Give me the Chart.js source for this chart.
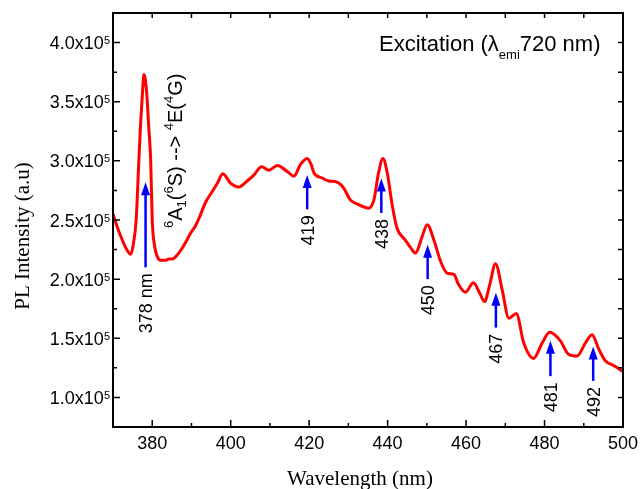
<!DOCTYPE html>
<html lang="en">
<head>
<meta charset="UTF-8">
<title>Excitation spectrum</title>
<script src="https://cdn.jsdelivr.net/npm/chart.js@4"></script>
<style>
  body { margin: 0; background: #fff; }
  canvas { display: block; }
</style>
</head>
<body>
<canvas id="plChart" width="640" height="489"></canvas>
<script>
// PL excitation spectrum, intensity in units of 10^5
const wavelength = [
  370.0, 371.0, 372.0, 373.2, 374.5, 375.2, 375.9, 376.6, 377.0, 377.5,
  377.9, 378.6, 379.1, 379.6, 380.0, 380.6, 381.3, 382.1, 383.5, 384.2,
  385.1, 386.0, 387.2, 388.5, 389.8, 391.0, 392.0, 393.6, 394.9, 396.6,
  398.0, 400.0, 402.1, 404.2, 405.9, 407.9, 409.7, 411.9, 414.4, 416.1,
  417.8, 419.5, 420.5, 421.2, 423.3, 425.0, 427.1, 428.8, 430.5, 432.6,
  434.0, 435.2, 436.5, 437.7, 438.8, 439.9, 441.2, 442.4, 444.5, 446.0,
  447.1, 448.8, 450.1, 451.8, 453.5, 455.2, 456.9, 458.0, 459.8, 461.9,
  463.5, 464.7, 466.0, 467.5, 469.2, 470.9, 472.8, 474.7, 477.2, 479.4,
  481.3, 484.0, 486.1, 488.3, 490.4, 492.1, 493.8, 495.5, 497.6, 500.0
];
const intensity = [
  2.55, 2.45, 2.36, 2.27, 2.21, 2.30, 2.50, 3.01, 3.29, 3.57,
  3.73, 3.57, 3.29, 3.01, 2.50, 2.28, 2.19, 2.16, 2.16, 2.17,
  2.17, 2.19, 2.24, 2.31, 2.39, 2.45, 2.52, 2.65, 2.72, 2.81,
  2.89, 2.81, 2.78, 2.83, 2.88, 2.95, 2.92, 2.96, 2.91, 2.87,
  2.97, 3.02, 2.97, 2.90, 2.855, 2.83, 2.82, 2.77, 2.67, 2.63,
  2.61, 2.60, 2.67, 2.90, 3.02, 2.90, 2.62, 2.43, 2.33, 2.26,
  2.22, 2.36, 2.46, 2.33, 2.15, 2.05, 2.04, 1.96, 1.89, 1.97,
  1.88, 1.81, 1.95, 2.13, 1.91, 1.67, 1.71, 1.46, 1.33, 1.46,
  1.55, 1.48, 1.365, 1.35, 1.46, 1.53, 1.41, 1.31, 1.27, 1.22
];

// marked peaks: arrow wavelength, arrow head and tail heights (x10^5), labels
const peakWavelength = [378.3, 419.5, 438.4, 450.2, 467.6, 481.5, 492.4];
const arrowTip = [2.82, 2.88, 2.85, 2.29, 1.885, 1.48, 1.43];
const arrowTail = [2.10, 2.59, 2.56, 2.00, 1.59, 1.18, 1.14];
const peakLabels = ['378 nm', '419', '438', '450', '467', '481', '492'];

const xTicks = [380, 400, 420, 440, 460, 480, 500];
const xMinorTicks = [370, 390, 410, 430, 450, 470, 490];
const yTicks = [1.0, 1.5, 2.0, 2.5, 3.0, 3.5, 4.0];
const yMinorTicks = [0.75, 1.25, 1.75, 2.25, 2.75, 3.25, 3.75, 4.25];

const sans = 'Arial, "Liberation Sans", sans-serif';
const serif = '"Times New Roman", "Liberation Serif", serif';

// draws text made of [string, 'sup'|'sub'|null, size, dy] pieces, returns width
function richText(ctx, parts, x, y, measureOnly) {
  let cx = x;
  parts.forEach(p => {
    ctx.font = p[2] + 'px ' + sans;
    if (!measureOnly) ctx.fillText(p[0], cx, y + (p[3] || 0));
    cx += ctx.measureText(p[0]).width;
  });
  return cx - x;
}

const decorations = {
  id: 'decorations',
  beforeDraw(chart) {
    const ctx = chart.ctx;
    ctx.save();
    ctx.fillStyle = '#fff';
    ctx.fillRect(0, 0, chart.width, chart.height);
    ctx.restore();
  },
  afterDatasetsDraw(chart) {
    const ctx = chart.ctx;
    const a = chart.chartArea;
    const xs = chart.scales.x, ys = chart.scales.y;
    ctx.save();

    // frame
    ctx.strokeStyle = '#000';
    ctx.lineWidth = 2;
    ctx.strokeRect(a.left, a.top, a.right - a.left, a.bottom - a.top);

    // inward ticks
    ctx.lineWidth = 1.5;
    ctx.beginPath();
    xTicks.concat(xMinorTicks).forEach(v => {
      const px = xs.getPixelForValue(v);
      const len = xTicks.includes(v) ? 7 : 4;
      ctx.moveTo(px, a.bottom); ctx.lineTo(px, a.bottom - len);
      ctx.moveTo(px, a.top); ctx.lineTo(px, a.top + 5);
    });
    yTicks.concat(yMinorTicks).forEach(v => {
      const py = ys.getPixelForValue(v);
      const len = yTicks.includes(v) ? 7 : 4;
      ctx.moveTo(a.left, py); ctx.lineTo(a.left + len, py);
      ctx.moveTo(a.right, py); ctx.lineTo(a.right - 5, py);
    });
    ctx.stroke();

    // tick labels
    ctx.fillStyle = '#000';
    ctx.textBaseline = 'alphabetic';
    ctx.textAlign = 'center';
    ctx.font = '18px ' + sans;
    xTicks.forEach(v => {
      ctx.fillText(String(v), xs.getPixelForValue(v), a.bottom + 22);
    });
    ctx.textAlign = 'left';
    yTicks.forEach(v => {
      const py = ys.getPixelForValue(v) + 6.5;
      const parts = [[v.toFixed(1) + 'x10', null, 18, 0], ['5', 'sup', 11, -5]];
      const w = richText(ctx, parts, 0, 0, true);
      richText(ctx, parts, a.left - 3 - w, py);
    });

    // axis titles
    ctx.font = '21px ' + serif;
    ctx.textAlign = 'center';
    ctx.fillText('Wavelength (nm)', 360, 485);
    ctx.save();
    ctx.translate(29, 236);
    ctx.rotate(-Math.PI / 2);
    ctx.fillText('PL Intensity (a.u)', 0, 0);
    ctx.restore();

    // title inside plot
    ctx.textAlign = 'left';
    richText(ctx, [
      ['Excitation (\u03bb', null, 22, 0],
      ['emi', 'sub', 13, 8],
      ['720 nm)', null, 22, 0]
    ], 379, 51);

    // arrows
    ctx.strokeStyle = '#0000ff';
    ctx.fillStyle = '#0000ff';
    ctx.lineWidth = 2.5;
    peakWavelength.forEach((w, i) => {
      const px = xs.getPixelForValue(w);
      const tip = ys.getPixelForValue(arrowTip[i]);
      const tail = ys.getPixelForValue(arrowTail[i]);
      ctx.beginPath();
      ctx.moveTo(px, tail);
      ctx.lineTo(px, tip + 8);
      ctx.stroke();
      ctx.beginPath();
      ctx.moveTo(px, tip);
      ctx.lineTo(px - 4.5, tip + 13);
      ctx.lineTo(px + 4.5, tip + 13);
      ctx.closePath();
      ctx.fill();
    });

    // peak labels, rotated
    ctx.fillStyle = '#000';
    ctx.font = '18px ' + sans;
    ctx.textAlign = 'right';
    peakLabels.forEach((t, i) => {
      const px = xs.getPixelForValue(peakWavelength[i]);
      const tail = ys.getPixelForValue(arrowTail[i]);
      ctx.save();
      ctx.translate(px + 6.5, tail + 6);
      ctx.rotate(-Math.PI / 2);
      ctx.fillText(t, 0, 0);
      ctx.restore();
    });

    // transition label next to the 378 nm peak
    ctx.textAlign = 'left';
    ctx.save();
    ctx.translate(182, 228);
    ctx.rotate(-Math.PI / 2);
    richText(ctx, [
      ['6', 'sup', 13, -9], ['A', null, 20, 0], ['1', 'sub', 13, 4],
      ['(', null, 20, 0], ['6', 'sup', 13, -9], ['S) --> ', null, 20, 0],
      ['4', 'sup', 13, -9], ['E(', null, 20, 0], ['4', 'sup', 13, -9],
      ['G)', null, 20, 0]
    ], 0, 0);
    ctx.restore();

    ctx.restore();
  }
};

const ctx = document.getElementById('plChart').getContext('2d');
new Chart(ctx, {
  type: 'line',
  data: {
    datasets: [{
      data: wavelength.map((w, i) => ({ x: w, y: intensity[i] })),
      borderColor: '#ff0000',
      borderWidth: 3,
      pointRadius: 0,
      cubicInterpolationMode: 'monotone',
      fill: false
    }]
  },
  options: {
    responsive: false,
    animation: false,
    layout: { padding: { left: 113, right: 17, top: 13, bottom: 62 } },
    plugins: { legend: { display: false }, tooltip: { enabled: false } },
    scales: {
      x: { type: 'linear', min: 370, max: 500, display: false },
      y: { type: 'linear', min: 0.75, max: 4.25, display: false }
    }
  },
  plugins: [decorations]
});
</script>
</body>
</html>
